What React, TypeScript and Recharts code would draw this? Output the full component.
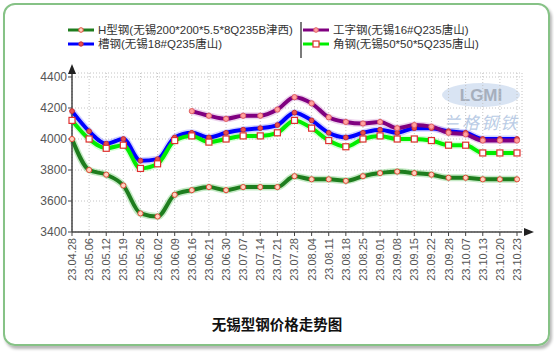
import React from 'react';
import { LineChart, Line, XAxis, YAxis, CartesianGrid } from 'recharts';

const categories = ['23.04.28','23.05.06','23.05.12','23.05.19','23.05.26','23.06.02','23.06.09','23.06.16','23.06.21','23.06.30','23.07.07','23.07.14','23.07.21','23.07.28','23.08.04','23.08.11','23.08.18','23.08.25','23.09.01','23.09.08','23.09.15','23.09.22','23.09.28','23.10.07','23.10.13','23.10.20','23.10.23'];

const hBeam = [4000,3800,3770,3700,3520,3500,3640,3670,3690,3670,3690,3690,3690,3760,3740,3740,3730,3760,3780,3790,3780,3770,3750,3750,3740,3740,3740];
const channel = [4180,4050,3970,4000,3860,3870,4010,4040,4010,4040,4060,4070,4090,4170,4120,4040,4010,4040,4060,4040,4070,4070,4050,4040,4000,4000,4000];
const iBeam = [null,null,null,null,null,null,null,4180,4150,4130,4150,4150,4190,4270,4230,4140,4110,4100,4110,4070,4090,4080,4040,4030,3990,3990,3990];
const angle = [4120,4000,3940,3960,3810,3840,3990,4020,3980,4000,4020,4020,4040,4120,4070,3990,3950,4000,4020,4000,4000,3990,3960,3960,3910,3910,3910];

const yTicks = [3400,3600,3800,4000,4200,4400];

const seriesNames = {
  h: 'H型钢(无锡200*200*5.5*8Q235B津西)',
  c: '槽钢(无锡18#Q235唐山)',
  i: '工字钢(无锡16#Q235唐山)',
  a: '角钢(无锡50*50*5Q235唐山)',
};

const data = categories.map((d, k) => ({ d, h: hBeam[k], c: channel[k], i: iBeam[k], a: angle[k] }));

const FONT = '"Liberation Sans", Arial, "Noto Sans CJK SC", sans-serif';

const colors = {
  h: { line: '#1e7d1e', halo: '#7fd07f' },
  c: { line: '#0000ff', halo: '#9a9aff' },
  i: { line: '#800080', halo: '#d8a0d8' },
  a: { line: '#00ee00', halo: '#a0ffa0' },
};

const XTick = (props: any) => {
  const { x, y, payload } = props;
  return (
    <g transform={`translate(${x},${y})`}>
      <text transform="rotate(-90)" x={0} y={0} dy="0.36em" textAnchor="end" fill="#555" fontSize={11} fontFamily={FONT}>
        {payload.value}
      </text>
    </g>
  );
};

const makeCircleDot = (fill: string, stroke: string, r: number) => (props: any) => {
  const { cx, cy, index } = props;
  if (cx == null || cy == null) return <g key={`n${index}`} />;
  return <circle key={`d${index}`} cx={cx} cy={cy} r={r} fill={fill} stroke={stroke} strokeWidth={1} />;
};

const SquareDot = (props: any) => {
  const { cx, cy, index } = props;
  if (cx == null || cy == null) return <g key={`n${index}`} />;
  return <rect key={`s${index}`} x={cx - 3} y={cy - 3} width={6} height={6} fill="#ffffff" stroke="#e03030" strokeWidth={1.2} />;
};

const hDot = makeCircleDot('#ffd2c0', '#e04a3a', 2.6);
const cDot = makeCircleDot('#e85050', '#c83030', 2.4);
const iDot = makeCircleDot('#ffa0a0', '#e06060', 2.6);

const LegendItem = ({ color, marker, label }: any) => (
  <div style={{ display: 'flex', alignItems: 'center', height: 14 }}>
    <svg width={26} height={10} style={{ marginRight: 4 }}>
      <line x1={0} y1={5} x2={26} y2={5} stroke={color} strokeWidth={3} />
      {marker}
    </svg>
    <span>{label}</span>
  </div>
);

export default function App() {
  return (
    <div style={{ position: 'fixed', left: 0, top: 0, width: 554, height: 353, background: '#fff', overflow: 'hidden' }}>
      <div style={{ position: 'absolute', left: 3, top: 3, width: 543, height: 339, border: '2px solid #86c286', borderRadius: 12, boxShadow: '2px 3px 3px #b8b8b8' }} />
      <svg width={554} height={353} style={{ position: 'absolute', left: 0, top: 0 }}>
        <ellipse cx={481} cy={95} rx={39} ry={12} fill="#c9d8ee" opacity={0.7} />
        <text x={481} y={101} textAnchor="middle" fontSize={17} fontWeight="bold" fill="#9aa3b0" fontFamily={FONT} opacity={0.8}>LGMI</text>
        <text x={481} y={129} textAnchor="middle" fontSize={17} fontStyle="italic" fill="#a9bfe0" fontFamily={FONT} opacity={0.8} letterSpacing={2}>兰格钢铁</text>
      </svg>
      <div style={{ position: 'absolute', left: 0, top: 0 }}>
        <LineChart width={554} height={353} data={data} margin={{ top: 73, right: 32, bottom: 61, left: 12 }}>
          <CartesianGrid stroke="#c4c4c4" strokeDasharray="1 2" />
          <XAxis dataKey="d" interval={0} height={60} tick={<XTick />} tickSize={4} tickMargin={2} padding={{ left: 0, right: 5 }} stroke="#444" axisLine={{ stroke: '#444', strokeWidth: 1.5 }} tickLine={{ stroke: '#444' }} />
          <YAxis domain={[3400, 4400]} ticks={yTicks} width={60} padding={{ top: 4, bottom: 0 }} tickSize={4} tickMargin={1} interval={0} axisLine={{ stroke: '#444', strokeWidth: 1.5 }} tickLine={{ stroke: '#444' }} tick={{ fill: '#555', fontSize: 12, fontFamily: FONT }} />
          <Line dataKey="h" type="monotone" stroke={colors.h.halo} strokeWidth={7} strokeOpacity={0.45} dot={false} activeDot={false} isAnimationActive={false} legendType="none" />
          <Line dataKey="c" type="monotone" stroke={colors.c.halo} strokeWidth={7} strokeOpacity={0.45} dot={false} activeDot={false} isAnimationActive={false} legendType="none" />
          <Line dataKey="i" type="monotone" stroke={colors.i.halo} strokeWidth={7} strokeOpacity={0.45} dot={false} activeDot={false} isAnimationActive={false} legendType="none" />
          <Line dataKey="a" type="monotone" stroke={colors.a.halo} strokeWidth={7} strokeOpacity={0.45} dot={false} activeDot={false} isAnimationActive={false} legendType="none" />
          <Line dataKey="h" name={seriesNames.h} type="monotone" stroke={colors.h.line} strokeWidth={4} dot={hDot} activeDot={false} isAnimationActive={false} />
          <Line dataKey="c" name={seriesNames.c} type="monotone" stroke={colors.c.line} strokeWidth={4} dot={cDot} activeDot={false} isAnimationActive={false} />
          <Line dataKey="i" name={seriesNames.i} type="monotone" stroke={colors.i.line} strokeWidth={4} dot={iDot} activeDot={false} isAnimationActive={false} />
          <Line dataKey="a" name={seriesNames.a} type="monotone" stroke={colors.a.line} strokeWidth={4} dot={SquareDot} activeDot={false} isAnimationActive={false} />
        </LineChart>
      </div>
      <svg width={554} height={353} style={{ position: 'absolute', left: 0, top: 0, pointerEvents: 'none' }}>
        <polygon points="72,64 68,74 76,74" fill="#222" />
        <polygon points="534,232 524,228 524,236" fill="#222" />
        <line x1={301} y1={22} x2={301} y2={58} stroke="#222" strokeWidth={1.2} />
      </svg>
      <div style={{ position: 'absolute', left: 68, top: 23, fontFamily: FONT, fontSize: 11.5, color: '#333', lineHeight: '14px' }}>
        <LegendItem color={colors.h.line} label={seriesNames.h} marker={<circle cx={13} cy={5} r={2.3} fill="#ffd2c0" stroke="#e04a3a" strokeWidth={1} />} />
        <LegendItem color={colors.c.line} label={seriesNames.c} marker={<circle cx={13} cy={5} r={2.2} fill="#e85050" stroke="#c83030" strokeWidth={1} />} />
      </div>
      <div style={{ position: 'absolute', left: 303, top: 23, fontFamily: FONT, fontSize: 11.5, color: '#333', lineHeight: '14px' }}>
        <LegendItem color={colors.i.line} label={seriesNames.i} marker={<circle cx={13} cy={5} r={2.3} fill="#ffa0a0" stroke="#e06060" strokeWidth={1} />} />
        <LegendItem color={colors.a.line} label={seriesNames.a} marker={<rect x={10} y={2} width={6} height={6} fill="#fff" stroke="#e03030" strokeWidth={1.2} />} />
      </div>
      <div style={{ position: 'absolute', left: 0, width: 554, top: 315, textAlign: 'center', fontFamily: '"Noto Sans CJK SC", sans-serif', fontWeight: 'bold', fontSize: 14.5, color: '#111', lineHeight: '18px' }}>
        无锡型钢价格走势图
      </div>
    </div>
  );
}
